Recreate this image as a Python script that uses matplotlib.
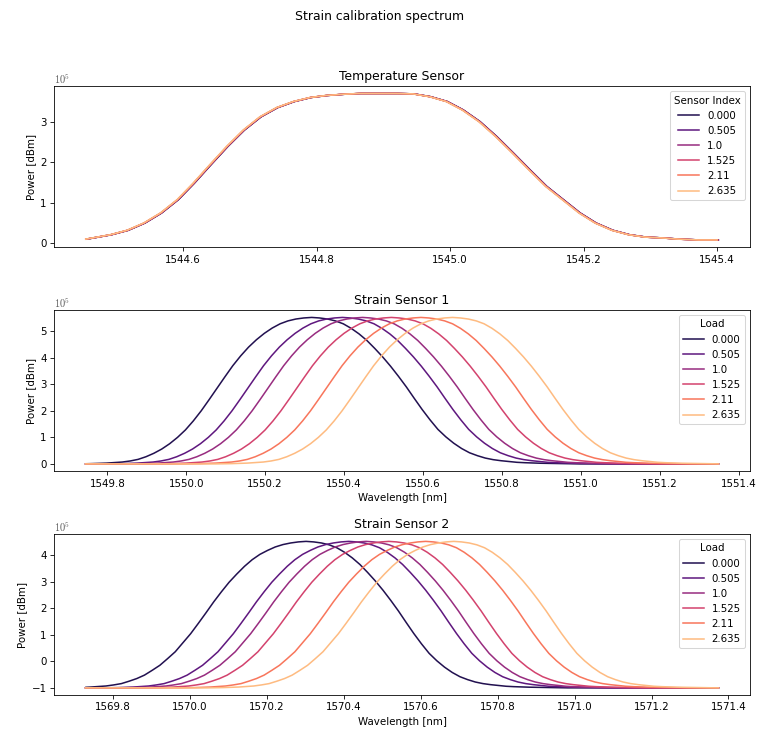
import numpy as np
import matplotlib
matplotlib.use("Agg")
import matplotlib.pyplot as plt
from matplotlib.ticker import MultipleLocator

plt.rcParams['mathtext.fontset'] = 'cm'

# legend labels (load / sensor index)
loads = ["0.000", "0.505", "1.0", "1.525", "2.11", "2.635"]

# temperature sensor spectrum (power in units of 1e5)
temp_wl = [1544.454, 1544.491, 1544.516, 1544.541, 1544.566, 1544.591, 1544.615,
           1544.640, 1544.665, 1544.690, 1544.715, 1544.740, 1544.765, 1544.790,
           1544.814, 1544.839, 1544.864, 1544.894, 1544.919, 1544.944, 1544.969,
           1544.994, 1545.018, 1545.043, 1545.068, 1545.093, 1545.118, 1545.143,
           1545.168, 1545.193, 1545.217, 1545.242, 1545.267, 1545.292, 1545.317,
           1545.342, 1545.372, 1545.400]
temp_power = [0.09, 0.20, 0.31, 0.49, 0.74, 1.07, 1.48, 1.94, 2.39, 2.80, 3.13,
              3.36, 3.51, 3.61, 3.66, 3.69, 3.71, 3.71, 3.71, 3.70, 3.63, 3.51,
              3.30, 3.01, 2.64, 2.23, 1.81, 1.40, 1.07, 0.74, 0.49, 0.31, 0.20,
              0.14, 0.12, 0.09, 0.07, 0.07]
# the six temperature curves sit almost on top of each other
temp_shift = [0.002, 0.0016, 0.0012, 0.0008, 0.0004, 0.0]

# grating peak profile, wavelength offset from the peak [nm]
peak_offset = [-1.10,
               -0.64, -0.62, -0.60, -0.58, -0.56, -0.54, -0.52, -0.50, -0.48, -0.46,
               -0.44, -0.42, -0.40, -0.38, -0.36, -0.34, -0.32, -0.30, -0.28, -0.26,
               -0.24, -0.22, -0.20, -0.18, -0.16, -0.14, -0.12, -0.10, -0.08, -0.06,
               -0.04, -0.02, 0.00, 0.02, 0.04, 0.06, 0.08, 0.10, 0.12, 0.14,
               0.16, 0.18, 0.20, 0.22, 0.24, 0.26, 0.28, 0.30, 0.32, 0.34,
               0.36, 0.38, 0.40, 0.42, 0.44, 0.46, 0.48, 0.50, 0.52, 0.54,
               0.56, 0.58, 0.60, 0.62, 0.64, 0.66, 0.68, 0.70,
               1.20]
s1_power = [0.0,
            0.0, 0.0, 0.0, 0.005, 0.01, 0.02, 0.03, 0.05, 0.07, 0.11,
            0.17, 0.27, 0.40, 0.56, 0.76, 1.00, 1.28, 1.62, 2.00, 2.42,
            2.85, 3.28, 3.70, 4.07, 4.40, 4.68, 4.92, 5.12, 5.28, 5.39,
            5.46, 5.50, 5.52, 5.50, 5.46, 5.39, 5.28, 5.11, 4.90, 4.65,
            4.35, 4.03, 3.68, 3.30, 2.90, 2.47, 2.05, 1.66, 1.30, 1.02,
            0.78, 0.58, 0.42, 0.31, 0.22, 0.16, 0.12, 0.09, 0.06, 0.045,
            0.035, 0.025, 0.02, 0.015, 0.01, 0.005, 0.0, 0.0,
            0.0]
s2_power = [-1.0,
            -1.0, -0.995, -0.99, -0.98, -0.97, -0.95, -0.93, -0.89, -0.84, -0.75,
            -0.65, -0.52, -0.34, -0.15, 0.10, 0.36, 0.70, 1.04, 1.43, 1.83,
            2.24, 2.62, 2.98, 3.29, 3.58, 3.83, 4.03, 4.18, 4.31, 4.40,
            4.46, 4.50, 4.52, 4.50, 4.46, 4.39, 4.28, 4.11, 3.90, 3.65,
            3.35, 3.03, 2.68, 2.30, 1.90, 1.47, 1.05, 0.66, 0.30, 0.02,
            -0.22, -0.42, -0.58, -0.69, -0.78, -0.84, -0.88, -0.91, -0.94, -0.955,
            -0.965, -0.975, -0.98, -0.985, -0.99, -0.995, -1.0, -1.0,
            -1.0]

s1_center = [1550.318, 1550.396, 1550.447, 1550.520, 1550.595, 1550.675]
s2_center = [1570.302, 1570.413, 1570.458, 1570.517, 1570.613, 1570.686]
s1_range = [1549.745, 1551.349]
s2_range = [1569.729, 1571.374]

colors = plt.get_cmap('magma')(np.linspace(0, 1, 8)[1:-1])

fig, axes = plt.subplots(3, 1, figsize=(10.27, 9.88))
fig.subplots_adjust(left=0.071, right=0.987, top=0.882, bottom=0.049, hspace=0.39)
fig.suptitle("Strain calibration spectrum", y=0.987)

ax = axes[0]
for i in range(len(loads)):
    ax.plot(np.array(temp_wl) + temp_shift[i], temp_power, color=colors[i], label=loads[i])
ax.set_title("Temperature Sensor")
ax.legend(title="Sensor Index", loc="upper right")

ax = axes[1]
for i in range(len(loads)):
    x = np.clip(s1_center[i] + np.array(peak_offset), s1_range[0], s1_range[1])
    ax.plot(x, s1_power, color=colors[i], label=loads[i])
ax.set_title("Strain Sensor 1")
ax.set_xlabel("Wavelength [nm]")
ax.legend(title="Load", loc="upper right")

ax = axes[2]
for i in range(len(loads)):
    x = np.clip(s2_center[i] + np.array(peak_offset), s2_range[0], s2_range[1])
    ax.plot(x, s2_power, color=colors[i], label=loads[i])
ax.set_title("Strain Sensor 2")
ax.set_xlabel("Wavelength [nm]")
ax.legend(title="Load", loc="upper right")

for ax in axes:
    ax.set_ylabel("Power [dBm]")
    ax.xaxis.set_major_locator(MultipleLocator(0.2))
    ax.ticklabel_format(axis='x', useOffset=False)
    ax.text(0, 1.0, r'$10^5$', transform=ax.transAxes, ha='left', va='bottom',
            fontsize=10, color='0.35')

fig.savefig("out.png", dpi=74)
